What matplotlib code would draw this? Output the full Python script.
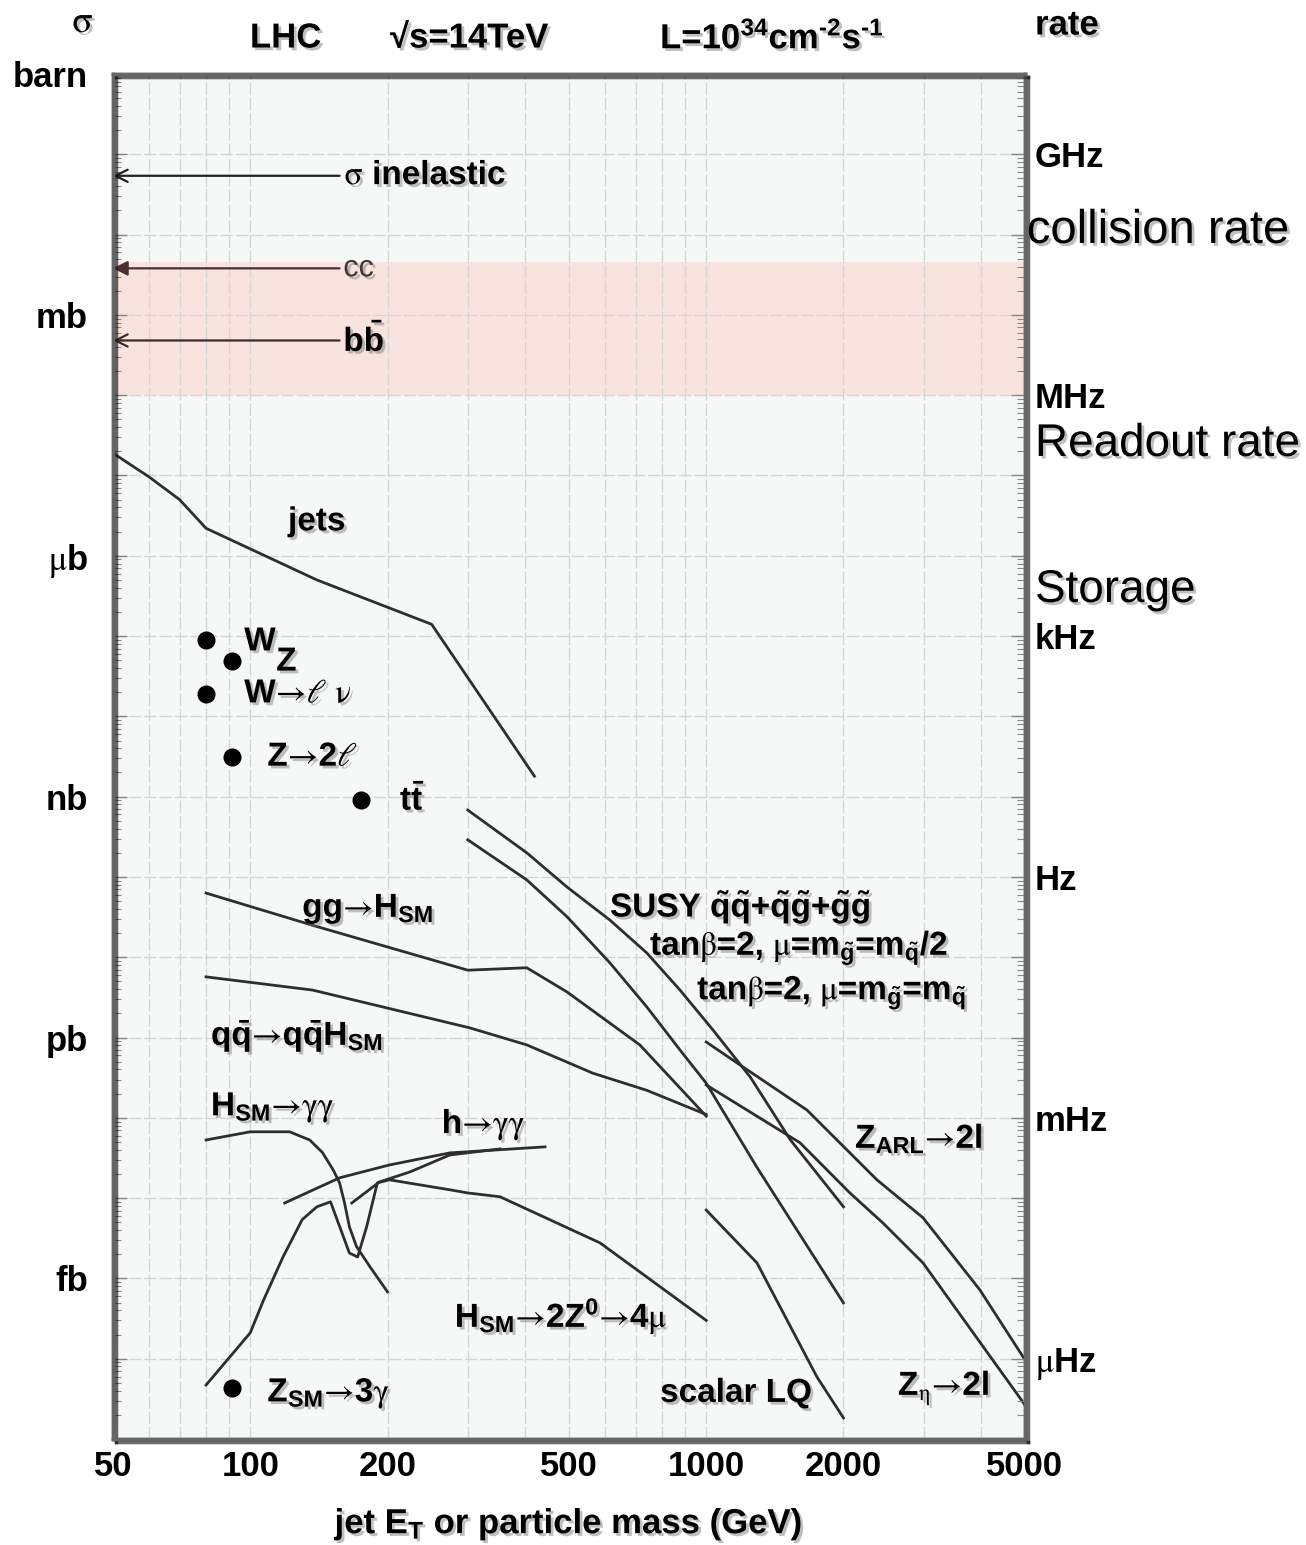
import numpy as np
import matplotlib
matplotlib.use("Agg")
import matplotlib.pyplot as plt
import matplotlib.patheffects as pe
from matplotlib.ticker import FixedLocator, LogLocator, FuncFormatter, NullFormatter
from matplotlib.text import Text

plt.rcParams['font.family'] = ['Liberation Sans', 'DejaVu Sans']
plt.rcParams['font.weight'] = 'bold'
plt.rcParams['mathtext.fontset'] = 'custom'
plt.rcParams['mathtext.rm'] = 'Liberation Sans:bold'
plt.rcParams['mathtext.it'] = 'Liberation Sans:bold'
plt.rcParams['mathtext.bf'] = 'Liberation Sans:bold'
# symbol-style glyphs (greek, arrows) come from plain STIX
plt.rcParams['mathtext.sf'] = 'STIXGeneral:weight=normal:style=normal'

# ── beam conditions ───────────────────────────────────────────────────────
LUMI = 1e34                # cm^-2 s^-1
BARN = 1e-24               # cm^2
RATE_PER_BARN = LUMI * BARN

X_MIN, X_MAX = 50, 5000
SIG_MIN, SIG_MAX = 1e-17, 1.0

# ── cross sections (barn) vs jet E_T / mass (GeV) ─────────────────────────
JETS_X = [50, 60, 70, 80, 140, 250, 420]
JETS_Y = [1.9e-5, 9.6e-6, 5.0e-6, 2.2e-6, 5.0e-7, 1.4e-7, 1.8e-9]

SUSY_A_X = [300, 404, 495, 615, 741, 876, 1035, 1250, 1530, 2000]
SUSY_A_Y = [6.8e-10, 2.0e-10, 7.5e-11, 2.9e-11, 1.13e-11, 3.9e-12, 1.24e-12, 3.2e-13, 5.3e-14, 7.8e-15]
SUSY_B_X = [300, 404, 495, 615, 741, 876, 1000, 1290, 2000]
SUSY_B_Y = [2.9e-10, 9.2e-11, 3.2e-11, 8.5e-12, 2.4e-12, 7.0e-13, 2.7e-13, 2.45e-14, 4.95e-16]

GGH_X = [80, 137, 300, 404, 495, 715, 1000]
GGH_Y = [6.3e-11, 2.5e-11, 6.9e-12, 7.4e-12, 3.7e-12, 8.1e-13, 1.05e-13]
QQH_X = [80, 137, 303, 404, 564, 741, 1000]
QQH_Y = [5.7e-12, 3.9e-12, 1.32e-12, 8.1e-13, 3.6e-13, 2.2e-13, 1.1e-13]

ZARL_X = [1000, 1186, 1663, 2368, 2988, 3982, 5000]
ZARL_Y = [8.8e-13, 4.56e-13, 1.25e-13, 1.69e-14, 5.7e-15, 7.2e-16, 9.7e-17]
ZETA_X = [1000, 1605, 2066, 2441, 2988, 5000]
ZETA_Y = [2.57e-13, 4.9e-14, 1.16e-14, 4.9e-15, 1.56e-15, 2.66e-17]
LQ_X = [1000, 1292, 1750, 2000]
LQ_Y = [7.1e-15, 1.56e-15, 5.9e-17, 1.83e-17]

HGG_X = [80, 100, 122, 135, 144, 152, 157, 161, 165, 171, 183, 200]
HGG_Y = [5.3e-14, 6.7e-14, 6.7e-14, 5.3e-14, 3.7e-14, 2.25e-14, 1.55e-14,
         8.7e-15, 4.4e-15, 2.5e-15, 1.4e-15, 6.8e-16]
HZZ_X = [80, 100, 107, 118, 130, 140, 150, 165, 172, 180, 190, 202, 274, 300, 353, 585, 1000]
HZZ_Y = [4.7e-17, 2.1e-16, 5.4e-16, 1.85e-15, 5.4e-15, 7.8e-15, 9.0e-15, 2.07e-15,
         1.85e-15, 4.4e-15, 1.55e-14, 1.69e-14, 1.27e-14, 1.16e-14, 1.04e-14, 2.77e-15, 3.0e-16]
HLGG1_X = [119, 157, 202, 274, 443]
HLGG1_Y = [8.7e-15, 1.79e-14, 2.59e-14, 3.66e-14, 4.35e-14]
HLGG2_X = [167, 192, 224, 274, 353]
HLGG2_Y = [8.7e-15, 1.59e-14, 2.12e-14, 3.45e-14, 4.1e-14]

# single-point processes: (mass, sigma)
W_PT = (80, 8.9e-8)
Z_PT = (91, 4.9e-8)
WLNU_PT = (80, 1.9e-8)
Z2L_PT = (91, 3.1e-9)
TT_PT = (175, 9.1e-10)
Z3G_PT = (91, 4.3e-17)

# total / heavy-flavour cross sections drawn as arrows
SIG_INEL = 0.054
SIG_CC = 3.8e-3
SIG_BB = 4.8e-4
BAND_LO, BAND_HI = 1e-4, 4.5e-3

# symbol-font pieces
ARR = r'$\mathsf{→}$'
def sym(name):
    return r'$\mathsf{\%s}$' % name

LEFT_UNITS = {0: 'barn', -3: 'mb', -6: sym('mu') + 'b', -9: 'nb', -12: 'pb', -15: 'fb'}
RATE_UNITS = {9: 'GHz', 6: 'MHz', 3: 'kHz', 0: 'Hz', -3: 'mHz', -6: sym('mu') + 'Hz'}
X_MAJOR = [50, 100, 200, 500, 1000, 2000, 5000]
X_MINOR = [60, 70, 80, 90, 300, 400, 600, 700, 800, 900, 3000, 4000]

# ── figure ────────────────────────────────────────────────────────────────
fig = plt.figure(figsize=(13.06, 15.45), dpi=100)
ax = fig.add_axes([0.0865, 0.0686, 0.6983, 0.8835])
ax.set_facecolor('#f6f8f8')
ax.set_xscale('log')
ax.set_yscale('log')
ax.set_xlim(X_MIN, X_MAX)
ax.set_ylim(SIG_MIN, SIG_MAX)
ax.set_axisbelow(True)

ax.axhspan(BAND_LO, BAND_HI, color='#f9e3de', zorder=0.1, lw=0)

LINE = dict(color='#2e2e2e', lw=2.0, zorder=3)
for xs, ys in [(JETS_X, JETS_Y), (SUSY_A_X, SUSY_A_Y), (SUSY_B_X, SUSY_B_Y),
               (GGH_X, GGH_Y), (QQH_X, QQH_Y), (ZARL_X, ZARL_Y), (ZETA_X, ZETA_Y),
               (LQ_X, LQ_Y), (HGG_X, HGG_Y), (HZZ_X, HZZ_Y),
               (HLGG1_X, HLGG1_Y), (HLGG2_X, HLGG2_Y)]:
    ax.plot(xs, ys, **LINE)

for pt in [W_PT, Z_PT, WLNU_PT, Z2L_PT, TT_PT, Z3G_PT]:
    ax.plot(*pt, 'o', color='black', ms=12, zorder=4)

# arrows pointing at the left axis
for sig, style, col in [(SIG_INEL, '->', '#222222'), (SIG_CC, '-|>', '#4a2e2e'), (SIG_BB, '->', '#3a2a2a')]:
    ax.annotate('', xy=(X_MIN, sig), xytext=(157, sig),
                arrowprops=dict(arrowstyle=style, lw=1.6, color=col, mutation_scale=22,
                                shrinkA=0, shrinkB=0), zorder=4)


def label(x, y, s, size=24, **kw):
    ax.text(x, y, s, fontsize=size, ha='left', va='center', zorder=5, **kw)


gam = sym('gamma')
mu = sym('mu')
beta = sym('beta')
ell = sym('ell')
SM = r'$_{\mathrm{SM}}$'
gt = r'$_{\tilde{\mathrm{g}}}$'
qt = r'$_{\tilde{\mathrm{q}}}$'

label(161, SIG_INEL, sym('sigma') + ' inelastic')
label(160, SIG_CC, 'cc', size=22, fontweight='normal', color='#3a3a3a')
label(160, SIG_BB, r'b$\bar{\mathrm{b}}$')
label(121, 2.64e-6, 'jets')
label(97, 8.45e-8, 'W')
label(114, 4.75e-8, 'Z')
label(97, 1.9e-8, 'W' + ARR + ell + ' ' + sym('nu'))
label(109, 3.1e-9, 'Z' + ARR + '2' + ell)
label(213, 9.1e-10, r't$\bar{\mathrm{t}}$')
label(130, 4.0e-11, 'gg' + ARR + 'H' + SM)
label(82, 1.05e-12, r'q$\bar{\mathrm{q}}$' + ARR + r'q$\bar{\mathrm{q}}$H' + SM)
label(82, 1.35e-13, 'H' + SM + ARR + gam + gam)
label(263, 8.2e-14, 'h' + ARR + gam + gam)
label(615, 4.25e-11, r'SUSY $\tilde{\mathrm{q}}\tilde{\mathrm{q}}$+$\tilde{\mathrm{q}}\tilde{\mathrm{g}}$+$\tilde{\mathrm{g}}\tilde{\mathrm{g}}$')
label(753, 1.3e-11, 'tan' + beta + '=2, ' + mu + '=m' + gt + '=m' + qt + '/2')
label(955, 3.6e-12, 'tan' + beta + '=2, ' + mu + '=m' + gt + '=m' + qt)
label(2120, 5.5e-14, r'Z$_{\mathrm{ARL}}$' + ARR + '2l')
label(281, 3.4e-16, 'H' + SM + ARR + r'2Z$^{0}$' + ARR + '4' + mu)
label(792, 3.7e-17, 'scalar LQ')
label(2633, 4.3e-17, r'Z$_{\mathsf{\eta}}$' + ARR + '2l')
label(109, 3.7e-17, 'Z' + SM + ARR + '3' + gam)

# ── axes ──────────────────────────────────────────────────────────────────
ax.xaxis.set_major_locator(FixedLocator(X_MAJOR))
ax.xaxis.set_minor_locator(FixedLocator(X_MINOR))
ax.xaxis.set_major_formatter(FuncFormatter(lambda v, p: f'{v:g}'))
ax.xaxis.set_minor_formatter(NullFormatter())
ax.tick_params(axis='x', which='both', length=0, labelsize=25, pad=8)

ax.yaxis.set_major_locator(LogLocator(base=10, numticks=40))
ax.yaxis.set_minor_locator(LogLocator(base=10, subs=np.arange(2, 10), numticks=200))
ax.yaxis.set_major_formatter(FuncFormatter(
    lambda v, p: LEFT_UNITS.get(int(round(np.log10(v))), '')))
ax.yaxis.set_minor_formatter(NullFormatter())
ax.tick_params(axis='y', which='major', direction='in', length=10, width=1.0,
               color='#888888', labelsize=25, pad=18)
ax.tick_params(axis='y', which='minor', direction='in', length=6, width=0.8, color='#888888')

GRID = dict(color='#d4d6d6', lw=1.0, ls=(0, (9, 2)))
ax.grid(True, axis='y', which='major', **GRID)
ax.grid(True, axis='x', which='both', **GRID)

# rate scale on the right
ax2 = ax.twinx()
ax2.set_yscale('log')
ax2.set_ylim(SIG_MIN * RATE_PER_BARN, SIG_MAX * RATE_PER_BARN)
ax2.yaxis.set_major_locator(LogLocator(base=10, numticks=40))
ax2.yaxis.set_minor_locator(LogLocator(base=10, subs=np.arange(2, 10), numticks=200))
ax2.yaxis.set_major_formatter(FuncFormatter(
    lambda v, p: RATE_UNITS.get(int(round(np.log10(v))), '')))
ax2.yaxis.set_minor_formatter(NullFormatter())
ax2.tick_params(axis='y', which='major', direction='in', length=10, width=1.0,
                color='#888888', labelsize=25, pad=7)
ax2.tick_params(axis='y', which='minor', direction='in', length=6, width=0.8, color='#888888')

for a in (ax, ax2):
    for sp in a.spines.values():
        sp.set_linewidth(2.5)
        sp.set_color('#666666')
        sp.set_path_effects([pe.SimpleLineShadow(offset=(2, -2), alpha=0.35), pe.Normal()])

ax.set_xlabel(r'jet E$_{\mathrm{T}}$ or particle mass (GeV)', fontsize=25,
              fontweight='bold', labelpad=16)

ytr = ax.get_yaxis_transform()
ax.text(1.002, 1.11e-2, 'collision rate', transform=ytr, fontsize=34,
        fontweight='normal', ha='left', va='center')
ax.text(1.011, 2.47e-5, 'Readout rate', transform=ytr, fontsize=33,
        fontweight='normal', ha='left', va='center')
ax.text(1.011, 3.75e-7, 'Storage', transform=ytr, fontsize=33,
        fontweight='normal', ha='left', va='center')

# header row
fig.text(0.0636, 0.9858, sym('sigma'), fontsize=27, ha='center', va='center')
fig.text(0.1914, 0.9754, 'LHC', fontsize=25, ha='left', va='center')
fig.text(0.2986, 0.9754, '√s=14TeV', fontsize=25, ha='left', va='center')
fig.text(0.5054, 0.9754, r'L=10$^{34}$cm$^{\text{-2}}$s$^{\text{-1}}$', fontsize=25,
         ha='left', va='center')
fig.text(0.7925, 0.9838, 'rate', fontsize=25, ha='left', va='center')

SHADOW = [pe.withSimplePatchShadow(offset=(2, -2), shadow_rgbFace='0.45', alpha=0.45)]
for t in fig.findobj(Text):
    if t.get_text():
        t.set_path_effects(SHADOW)

fig.savefig('out.png', dpi=100)
